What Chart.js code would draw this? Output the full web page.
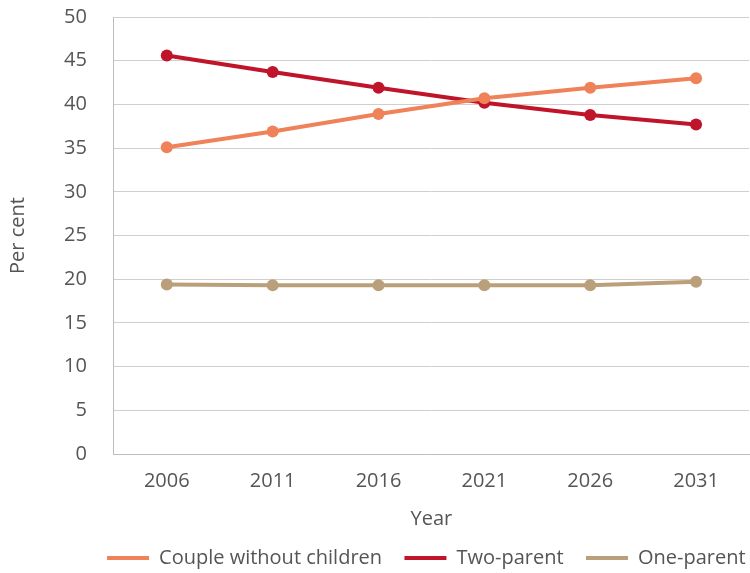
<!DOCTYPE html>
<html lang="en">
<head>
    <meta charset="UTF-8">
    <title>Family types</title>
    <script src="https://cdn.jsdelivr.net/npm/chart.js@4"></script>
    <style>
        body { margin: 0; background: #fff; overflow: hidden; }
        #wrap { width: 755px; height: 573px; }
    </style>
</head>
<body>
    <div id="wrap"><canvas id="chart"></canvas></div>
    <script>
        const years = ['2006', '2011', '2016', '2021', '2026', '2031'];
        const coupleNoKids = [35.1, 36.9, 38.9, 40.7, 41.9, 43.0];
        const twoParent = [45.6, 43.7, 41.9, 40.2, 38.8, 37.7];
        const oneParent = [19.4, 19.3, 19.3, 19.3, 19.3, 19.7];

        const ctx = document.getElementById('chart');
        Chart.defaults.font.family = '"Open Sans", sans-serif';
        Chart.defaults.color = '#555555';

        function series(label, data, colour) {
            return {
                label: label,
                data: data,
                borderColor: colour,
                backgroundColor: colour,
                borderWidth: 4,
                pointRadius: 6,
                pointHoverRadius: 6,
                pointBackgroundColor: colour,
                pointBorderWidth: 0,
                tension: 0
            };
        }

        new Chart(ctx, {
            type: 'line',
            data: {
                labels: years,
                datasets: [
                    series('Couple without children', coupleNoKids, '#ef8258'),
                    series('Two-parent', twoParent, '#c0142b'),
                    series('One-parent', oneParent, '#b9a07a')
                ]
            },
            options: {
                responsive: true,
                maintainAspectRatio: false,
                animation: false,
                layout: { padding: { top: 17, right: -13, left: 6, bottom: -5 } },
                plugins: {
                    legend: {
                        position: 'bottom',
                        align: 'end',
                        labels: {
                            font: { size: 20 },
                            boxWidth: 42,
                            boxHeight: 4,
                            padding: 12,
                            // trailing spaces widen the gap between items
                            generateLabels: chart => chart.data.datasets.map((d, i, all) => ({
                                text: d.label + '  ',
                                fillStyle: d.borderColor,
                                strokeStyle: d.borderColor,
                                lineWidth: 0,
                                datasetIndex: i,
                                fontColor: '#555555'
                            }))
                        }
                    },
                    tooltip: { enabled: false }
                },
                scales: {
                    x: {
                        offset: true,
                        grid: { display: false },
                        border: { color: '#bdbdbd' },
                        ticks: { font: { size: 20 }, padding: 7 },
                        title: { display: true, text: 'Year', font: { size: 20 }, padding: { top: 7, bottom: 5 } },
                        afterFit: s => { s.paddingLeft = 0; s.paddingRight = 0; }
                    },
                    y: {
                        min: 0,
                        max: 50,
                        ticks: { stepSize: 5, font: { size: 20 }, padding: 27 },
                        grid: { color: '#cfcfcf', drawTicks: false },
                        border: { color: '#bdbdbd' },
                        title: { display: true, text: 'Per cent', font: { size: 20 }, padding: { top: 0, bottom: 7 } },
                        afterFit: s => { s.paddingTop = 0; s.paddingBottom = 0; }
                    }
                }
            }
        });
    </script>
</body>
</html>
